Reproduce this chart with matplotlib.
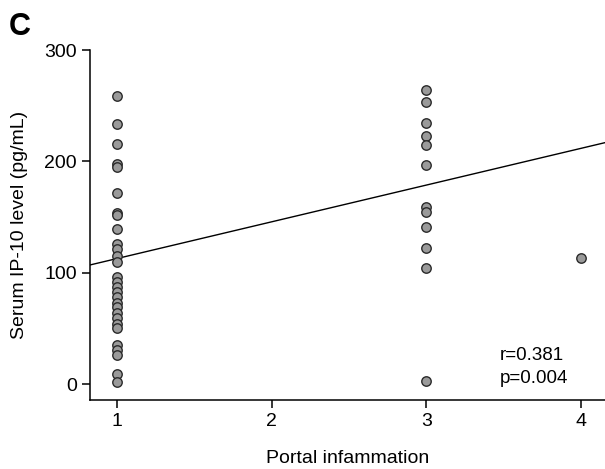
import numpy as np
import matplotlib
matplotlib.use('Agg')
import matplotlib.pyplot as plt

plt.rcParams['font.family'] = 'Liberation Sans'
plt.rcParams['font.size'] = 13

# portal inflammation grade 1
grau1 = [259, 234, 216, 198, 195, 172, 154, 152, 139, 126, 121, 115, 110,
         96, 92, 87, 83, 78, 73, 69, 64, 59, 54, 50, 35, 31, 26, 9, 2]
# grade 3
grau3 = [264, 253, 235, 223, 215, 197, 159, 155, 141, 122, 104, 3]
# grade 4
grau4 = [113]

x = [1] * len(grau1) + [3] * len(grau3) + [4] * len(grau4)
y = grau1 + grau3 + grau4

# reta de regressao
inclinacao = 33.0
intercepto = 79.8

fig = plt.figure(figsize=(6.05, 4.69), dpi=100)
ax = fig.add_axes([0.149, 0.147, 0.851, 0.746])

ax.plot(x, y, 'o', markersize=6.8, markerfacecolor='#9a9a9a',
        markeredgecolor='#2a2a2a', markeredgewidth=1.0, zorder=3)

xs = np.array([0.825, 4.16])
ax.plot(xs, intercepto + inclinacao * xs, color='black', lw=1.0, zorder=2)

ax.set_xlim(0.825, 4.155)
ax.set_ylim(-14.4, 300)
ax.set_xticks([1, 2, 3, 4])
ax.set_yticks([0, 100, 200, 300])
ax.spines['top'].set_visible(False)
ax.spines['right'].set_visible(False)
ax.spines['left'].set_linewidth(1.1)
ax.spines['bottom'].set_linewidth(1.1)
ax.tick_params(direction='out', length=6, width=1.1, labelsize=14)

ax.set_xlabel('Portal infammation', fontsize=14, labelpad=14)
ax.set_ylabel('Serum IP-10 level (pg/mL)', fontsize=14, labelpad=12)

ax.text(0.795, 0.095, 'r=0.381\np=0.004', transform=ax.transAxes,
        fontsize=13.5, linespacing=1.45, va='center')

fig.text(0.015, 0.925, 'C', fontsize=22, fontweight='bold')

plt.savefig('out.png', dpi=100)
